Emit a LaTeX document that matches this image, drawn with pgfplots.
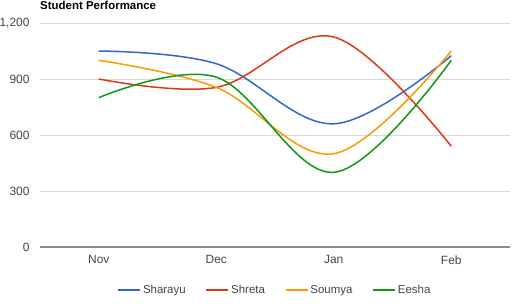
\documentclass[border=0pt]{standalone}
\usepackage{pgfplots}
\pgfplotsset{compat=1.18}
\usepackage{fontspec}
\setmainfont{Liberation Sans}
\definecolor{gblue}{HTML}{3366CC}
\definecolor{gred}{HTML}{DC3912}
\definecolor{gorange}{HTML}{FF9900}
\definecolor{ggreen}{HTML}{109618}
\definecolor{tickgray}{HTML}{444444}
\begin{document}
\begin{tikzpicture}
\path[use as bounding box] (0,0) rectangle (516bp,304bp);
\node[anchor=base west, font=\fontsize{11.5}{13}\selectfont\bfseries, text=black, inner sep=0pt] at (40bp,294bp) {Student Performance};
\begin{axis}[
  at={(40bp,57bp)}, anchor=south west,
  scale only axis, width=470bp, height=224bp,
  xmin=-0.5, xmax=3.5, ymin=0, ymax=1200,
  xtick={0,1,2,3}, xticklabels={Nov,Dec,Jan,Feb},
  ytick={0,300,600,900,1200},
  ymajorgrids, grid style={color=black!15, line width=0.8bp},
  axis line style={draw=none},
  major tick length=0pt,
  tick label style={font=\fontsize{12}{14}\selectfont, text=tickgray},
  yticklabel style={xshift=-7bp},
  xticklabel style={yshift=-5bp},
  /pgf/number format/.cd, 1000 sep={,}, assume math mode=true,
  /pgfplots/.cd,
  legend columns=4,
  legend style={at={(0.5,-0.192)}, anchor=center, draw=none, fill=none,
    font=\fontsize{11.5}{13}\selectfont, text=tickgray,
    /tikz/every even column/.append style={column sep=18bp}},
  legend image code/.code={\draw[#1, line width=1.5bp] (0bp,0bp) -- (22bp,0bp);},
  every axis plot/.append style={line width=1.5bp, smooth, tension=0.6},
  clip=false,
]
\draw[black!45, line width=1.4bp] (axis cs:-0.5,0) -- (axis cs:3.5,0);
\addplot[gblue] coordinates {(0,1050) (1,982) (2,660) (3,1025)};
\addlegendentry{Sharayu}
\addplot[gred] coordinates {(0,900) (1,855) (2,1125) (3,540)};
\addlegendentry{Shreta}
\addplot[gorange] coordinates {(0,1000) (1,855) (2,500) (3,1050)};
\addlegendentry{Soumya}
\addplot[ggreen] coordinates {(0,800) (1,910) (2,400) (3,1000)};
\addlegendentry{Eesha}
\end{axis}
\end{tikzpicture}
\end{document}
